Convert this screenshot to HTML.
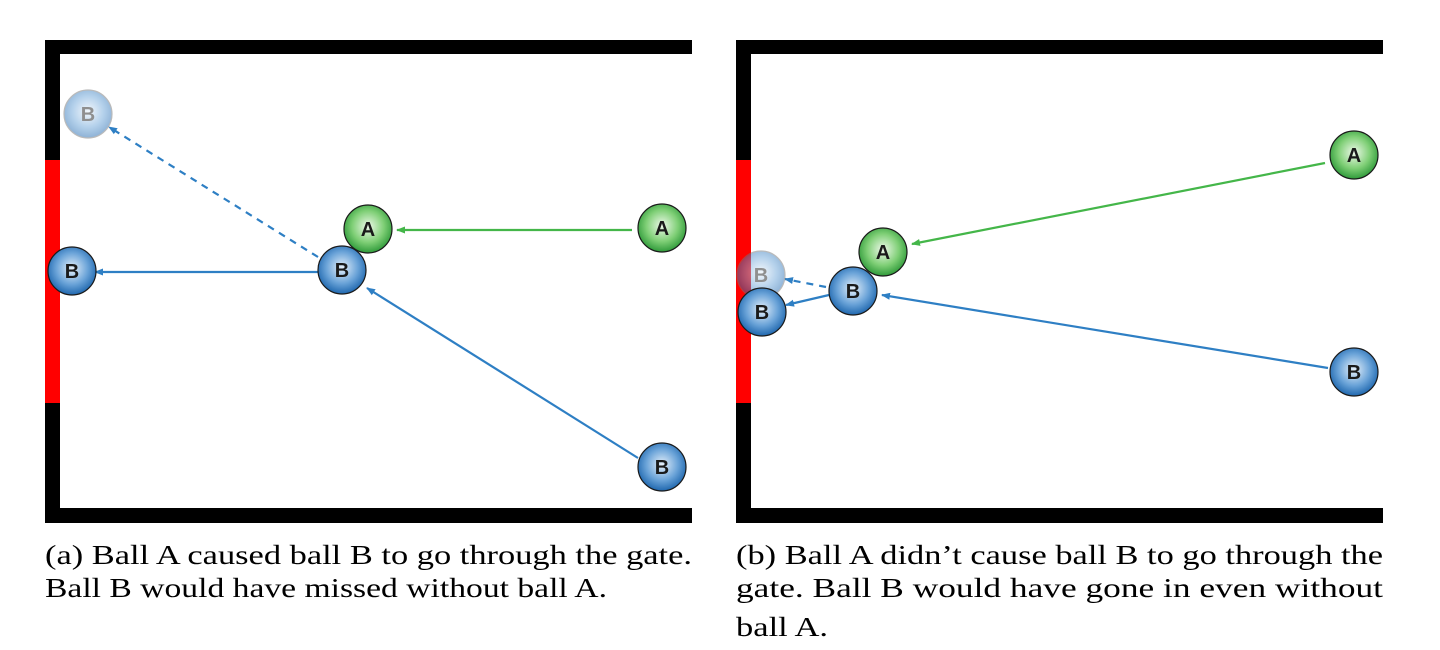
<!DOCTYPE html>
<html><head><meta charset="utf-8"><style>
html,body{margin:0;padding:0;background:#fff;}
svg{display:block;}
</style></head><body>
<svg width="1440" height="650" viewBox="0 0 1440 650" xmlns="http://www.w3.org/2000/svg">
<defs>
<radialGradient id="gb" cx="50%" cy="45%" r="55%">
<stop offset="0" stop-color="#e6f0fa"/><stop offset="0.6" stop-color="#6aa3d8"/><stop offset="1" stop-color="#1f67ae"/></radialGradient>
<radialGradient id="gg" cx="50%" cy="45%" r="55%">
<stop offset="0" stop-color="#eef9ea"/><stop offset="0.6" stop-color="#7fcf76"/><stop offset="1" stop-color="#2f9a3a"/></radialGradient>
<marker id="ab" markerWidth="9" markerHeight="8" refX="8" refY="4" orient="auto" markerUnits="userSpaceOnUse"><path d="M0,0.5 L9,4 L0,7.5 Z" fill="#2e7fc4"/></marker>
<marker id="ag" markerWidth="9" markerHeight="8" refX="8" refY="4" orient="auto" markerUnits="userSpaceOnUse"><path d="M0,0.5 L9,4 L0,7.5 Z" fill="#44b649"/></marker>
<g id="B"><circle r="24" fill="url(#gb)" stroke="#1a1a1a" stroke-width="1.2"/><text y="7" text-anchor="middle" font-family="Liberation Sans,sans-serif" font-weight="bold" font-size="20" fill="#1a1a1a">B</text></g>
<g id="A"><circle r="24" fill="url(#gg)" stroke="#1a1a1a" stroke-width="1.2"/><text y="7" text-anchor="middle" font-family="Liberation Sans,sans-serif" font-weight="bold" font-size="20" fill="#1a1a1a">A</text></g>
<g id="G" opacity="0.5"><circle r="24" fill="url(#gb)" stroke="#777" stroke-width="1.2"/><text y="7" text-anchor="middle" font-family="Liberation Sans,sans-serif" font-weight="bold" font-size="20" fill="#222">B</text></g>
</defs>
<rect x="45" y="40" width="647" height="14" fill="#000"/>
<rect x="45" y="40" width="15" height="483" fill="#000"/>
<rect x="45" y="508" width="647" height="15" fill="#000"/>
<rect x="45" y="160" width="15" height="243" fill="#f00"/>
<rect x="736" y="40" width="647" height="14" fill="#000"/>
<rect x="736" y="40" width="15" height="483" fill="#000"/>
<rect x="736" y="508" width="647" height="15" fill="#000"/>
<rect x="736" y="160" width="15" height="243" fill="#f00"/>
<line x1="632" y1="230" x2="397" y2="230" stroke="#44b649" stroke-width="2.2" marker-end="url(#ag)"/>
<line x1="318" y1="272" x2="95" y2="272" stroke="#2e7fc4" stroke-width="2.2" marker-end="url(#ab)"/>
<line x1="638" y1="458" x2="367" y2="288" stroke="#2e7fc4" stroke-width="2.2" marker-end="url(#ab)"/>
<line x1="318" y1="257" x2="109" y2="127" stroke="#2e7fc4" stroke-width="2.2" stroke-dasharray="7,6" marker-end="url(#ab)"/>
<use href="#G" x="88" y="114"/>
<use href="#A" x="368" y="229"/>
<use href="#A" x="662" y="228"/>
<use href="#B" x="72" y="271"/>
<use href="#B" x="342" y="270"/>
<use href="#B" x="662" y="467"/>
<line x1="1325" y1="163" x2="912" y2="244" stroke="#44b649" stroke-width="2.2" marker-end="url(#ag)"/>
<line x1="1328" y1="368" x2="882" y2="295" stroke="#2e7fc4" stroke-width="2.2" marker-end="url(#ab)"/>
<line x1="829" y1="295" x2="786" y2="305" stroke="#2e7fc4" stroke-width="2.2" marker-end="url(#ab)"/>
<line x1="826" y1="287" x2="785" y2="279" stroke="#2e7fc4" stroke-width="2.2" stroke-dasharray="7,6" marker-end="url(#ab)"/>
<use href="#A" x="1354" y="155"/>
<use href="#A" x="883" y="252"/>
<use href="#G" x="761" y="275"/>
<use href="#B" x="762" y="312"/>
<use href="#B" x="853" y="291"/>
<use href="#B" x="1354" y="372"/>
<g font-family="Liberation Serif,serif" font-size="27" fill="#000">
<text x="45" y="564" textLength="647" lengthAdjust="spacingAndGlyphs">(a) Ball A caused ball B to go through the gate.</text>
<text x="45" y="597" textLength="562" lengthAdjust="spacingAndGlyphs">Ball B would have missed without ball A.</text>
<text x="736" y="564" textLength="647" lengthAdjust="spacingAndGlyphs">(b) Ball A didn’t cause ball B to go through the</text>
<text x="736" y="597" textLength="647" lengthAdjust="spacingAndGlyphs">gate.  Ball B would have gone in even without</text>
<text x="736" y="636" textLength="92" lengthAdjust="spacingAndGlyphs">ball A.</text>
</g>
</svg>
</body></html>
